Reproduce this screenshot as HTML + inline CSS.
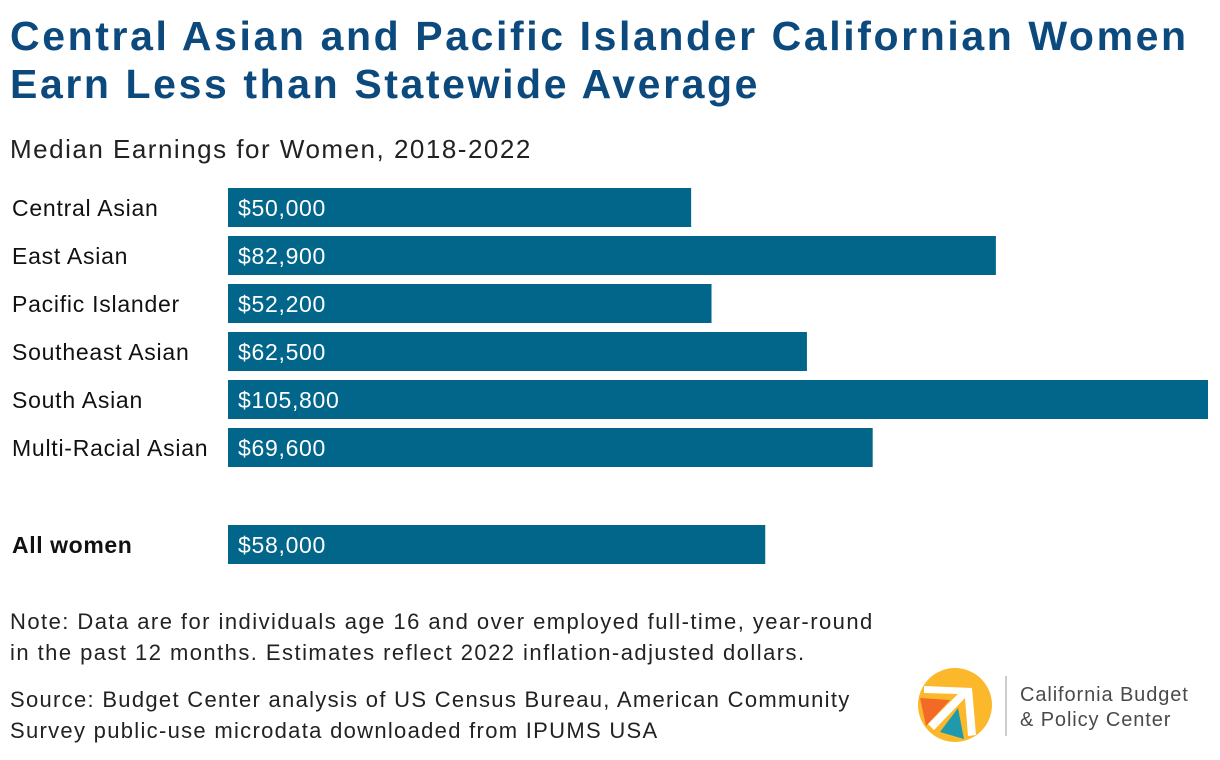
<!DOCTYPE html>
<html><head><meta charset="utf-8"><style>
body{margin:0;width:1220px;height:760px;background:#fff;font-family:"Liberation Sans",sans-serif;overflow:hidden;position:relative}
.t{position:absolute;white-space:nowrap}
</style></head><body>
<div class="t" style="left:10px;top:12px;font-size:41px;font-weight:bold;color:#0c4a7e;line-height:48px;letter-spacing:2.6px">Central Asian and Pacific Islander Californian Women<br>Earn Less than Statewide Average</div>
<div class="t" style="left:10px;top:134px;font-size:26px;color:#222;letter-spacing:1.5px">Median Earnings for Women, 2018-2022</div>
<svg id="chart" width="1220" height="580" style="position:absolute;left:0;top:0"></svg>
<div class="t" style="left:10px;top:606px;font-size:22px;line-height:31px;color:#222;letter-spacing:1.45px">Note: Data are for individuals age 16 and over employed full-time, year-round<br>in the past 12 months. Estimates reflect 2022 inflation-adjusted dollars.</div>
<div class="t" style="left:10px;top:684px;font-size:22px;line-height:31px;color:#222;letter-spacing:1.3px">Source: Budget Center analysis of US Census Bureau, American Community<br>Survey public-use microdata downloaded from IPUMS USA</div>
<svg width="300" height="90" style="position:absolute;left:910px;top:660px">
<circle cx="45" cy="45" r="37" fill="#fbb82b"/>
<polygon points="10,38 40,40 16,66" fill="#f26a25"/>
<polygon points="30,72 48,48 54,79" fill="#1f9aad"/>
<polygon points="14,26 62,28 66,75 58,76 55,38 24,70 18,64 48,34 14,33" fill="#fff"/>
<line x1="96" y1="16" x2="96" y2="76" stroke="#bbb" stroke-width="1.5"/>
<text x="110" y="41" font-size="20" letter-spacing="0.9" fill="#4a4a4a" font-family="Liberation Sans">California Budget</text>
<text x="110" y="66" font-size="20" letter-spacing="0.9" fill="#4a4a4a" font-family="Liberation Sans">&amp; Policy Center</text>
</svg>
<script>
const categories=["Central Asian","East Asian","Pacific Islander","Southeast Asian","South Asian","Multi-Racial Asian","All women"];
const values=[50000,82900,52200,62500,105800,69600,58000];
const labels=["$50,000","$82,900","$52,200","$62,500","$105,800","$69,600","$58,000"];
const svg=document.getElementById('chart');
const NS='http://www.w3.org/2000/svg';
const x0=228, xMax=105800, w=980;
const xs=v=>v/xMax*w;
const ys=i=>188+i*48+(i===6?49:0);
categories.forEach((c,i)=>{
  const y=ys(i);
  const r=document.createElementNS(NS,'rect');
  r.setAttribute('x',x0);r.setAttribute('y',y);r.setAttribute('width',xs(values[i]));r.setAttribute('height',39);r.setAttribute('fill','#02668a');
  
  
  svg.appendChild(r);
  const l=document.createElementNS(NS,'text');
  l.setAttribute('x',12);l.setAttribute('y',y+28);l.setAttribute('font-size','23');l.setAttribute('fill','#111');l.setAttribute('letter-spacing', i===6?'0.6':'0.75');
  if(i===6)l.setAttribute('font-weight','bold');
  l.textContent=c;
  
  
  svg.appendChild(l);
  const v=document.createElementNS(NS,'text');
  v.setAttribute('x',238);v.setAttribute('y',y+28);v.setAttribute('font-size','23');v.setAttribute('fill','#fff');v.setAttribute('letter-spacing','0.7');
  v.textContent=labels[i];
  
  
  svg.appendChild(v);
});
</script>
</body></html>
